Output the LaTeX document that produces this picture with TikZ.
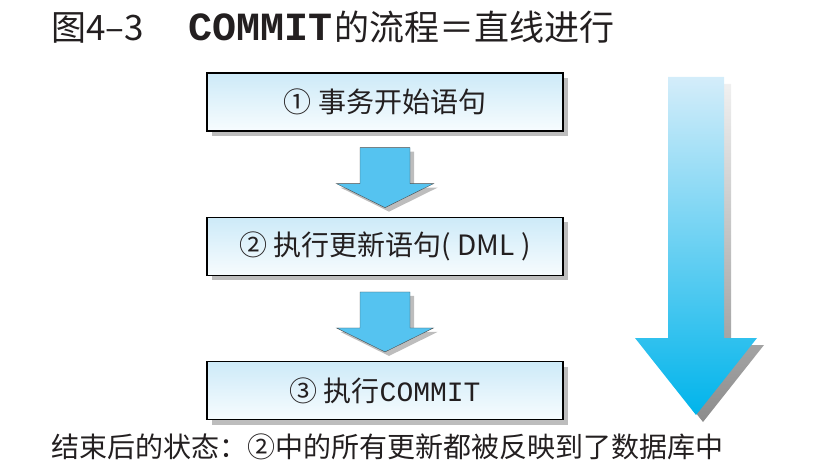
\documentclass[tikz,border=0pt]{standalone}
\usepackage{fontspec}
\setmainfont{Noto Sans CJK SC}
\newfontfamily\codefont{Liberation Mono}
\usepackage{tikz}
\usetikzlibrary{positioning, calc, shadows}

\definecolor{inkgray}{HTML}{231F20}
\definecolor{boxtop}{HTML}{CDEAF8}
\definecolor{boxbot}{HTML}{F7FCFE}
\definecolor{arrowblue}{HTML}{55C3F0}
\definecolor{bigtop}{HTML}{D4EDFA}
\definecolor{bigbot}{HTML}{00B4EB}
\definecolor{shadowgray}{HTML}{BDBDBD}

\begin{document}
\begin{tikzpicture}[
  x=1pt, y=1pt,
  node distance=85pt,
  every node/.style={text=inkgray, font=\fontsize{28}{30}\selectfont}
]
\tikzset{
  stepbox/.style   ={draw=black, line width=1.3pt,
                     top color=boxtop, bottom color=boxbot,
                     minimum width=356pt, minimum height=58pt, inner sep=0pt,
                     drop shadow={shadow xshift=5pt, shadow yshift=-5pt,
                                  fill=shadowgray, opacity=1}},
  flow/.style      ={fill=arrowblue, draw=black!70, line width=0.4pt},
  flowshadow/.style={fill=shadowgray},
  titletext/.style ={font=\fontsize{35}{38}\selectfont, anchor=base west}
}
\useasboundingbox (0,0) rectangle (840,467);

%% ----- Title -----
\node[titletext] (title) at (48,426)
  {图4–3\hspace{44pt}{\fontsize{40}{40}\selectfont\bfseries\codefont COMMIT}\hspace{2pt}的流程＝直线进行};

%% ----- Steps -----
\node[stepbox] (b1) at (385,365) {① 事务开始语句};
\node[stepbox, below=of b1] (b2) {② 执行更新语句( DML )};
\node[stepbox, below=of b2] (b3) {③ 执行{\codefont COMMIT}};

%% ----- Block arrows between steps (shadow first) -----
\foreach \a/\b in {b1/b2, b2/b3}
  \foreach \d/\sty in {4/flowshadow, 0/flow}
    \path[\sty]
      ($(\a.south)+(-25+\d,-16-\d)$) -- ($(\a.south)+(25+\d,-16-\d)$)
      -- ($(\b.north)+(25+\d,33-\d)$) -- ($(\b.north)+(48.5+\d,33-\d)$)
      -- ($(\b.north)+(0+\d,9-\d)$)
      -- ($(\b.north)+(-48.5+\d,33-\d)$) -- ($(\b.north)+(-25+\d,33-\d)$)
      -- cycle;

%% ----- Big arrow on the right -----
\shade[top color=black!6, bottom color=black!45]
  (675,383) -- (731,383) -- (731,122) -- (764,122) -- (703,45)
  -- (642,122) -- (675,122) -- cycle;
\shade[top color=bigtop, bottom color=bigbot]
  (668,390) -- (724,390) -- (724,129) -- (757,129) -- (696,52)
  -- (635,129) -- (668,129) -- cycle;

%% ----- Note -----
\node[anchor=base west] (note) at (48,9.5)
  {结束后的状态：②中的所有更新都被反映到了数据库中};

\end{tikzpicture}
\end{document}
